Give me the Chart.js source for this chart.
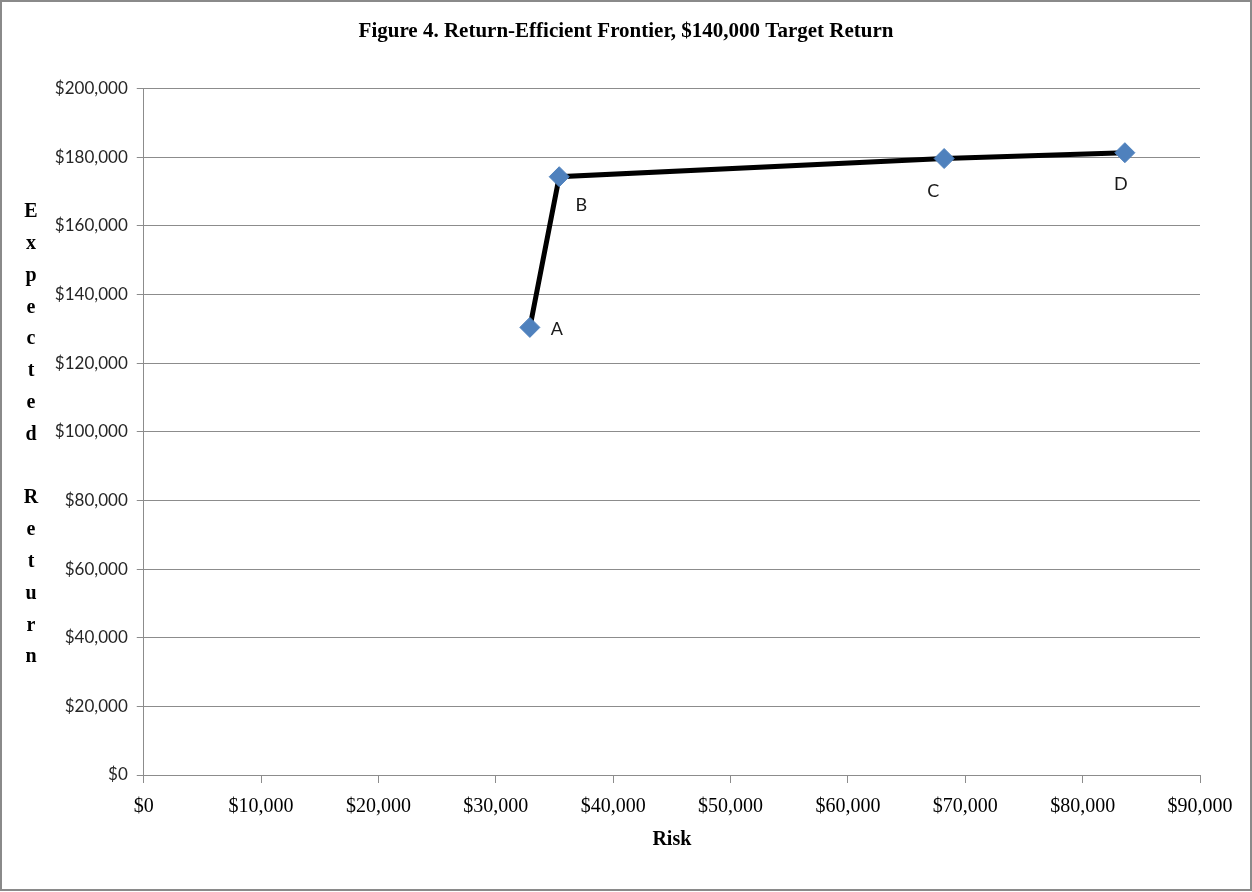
<!DOCTYPE html>
<html>
<head>
<meta charset="utf-8">
<script src="https://cdn.jsdelivr.net/npm/chart.js@4"></script>
<style>
  html, body { margin: 0; padding: 0; background: #fff; }
  #wrap { width: 1252px; height: 892px; position: relative; }
</style>
</head>
<body>
<div id="wrap"><canvas id="c" width="1252" height="892"></canvas></div>
<script>
// ---- data ----
const pointNames   = ['A', 'B', 'C', 'D'];
const riskValues   = [32900, 35400, 68200, 83600];
const returnValues = [130400, 174300, 179600, 181300];
const yTickValues  = [0, 20000, 40000, 60000, 80000, 100000, 120000, 140000, 160000, 180000, 200000];
const xTickValues  = [0, 10000, 20000, 30000, 40000, 50000, 60000, 70000, 80000, 90000];
const chartTitle   = 'Figure 4. Return-Efficient Frontier, $140,000 Target Return';
const xAxisTitle   = 'Risk';
const yAxisTitle   = 'Expected Return';

const fmt = v => '$' + Number(v).toLocaleString('en-US');

const points = riskValues.map((x, i) => ({ x: x, y: returnValues[i] }));

// label offsets (styling only)
const labelOffsets = [[27, 2], [22, 28], [-11, 33], [-4, 31]];

const pointLabelPlugin = {
  id: 'pointLabels',
  afterDatasetsDraw(chart) {
    const ctx = chart.ctx;
    const meta = chart.getDatasetMeta(0);
    ctx.save();
    ctx.font = '18px Lato';
    ctx.fillStyle = '#1a1a1a';
    ctx.textAlign = 'center';
    ctx.textBaseline = 'middle';
    meta.data.forEach((el, i) => {
      const o = labelOffsets[i];
      ctx.fillText(pointNames[i], el.x + o[0], el.y + o[1]);
    });
    ctx.restore();
  }
};

const textPlugin = {
  id: 'texts',
  afterDraw(chart) {
    const ctx = chart.ctx;
    ctx.save();
    // main title, centred on the whole frame
    ctx.font = 'bold 21px "Liberation Serif"';
    ctx.fillStyle = '#000';
    ctx.textAlign = 'center';
    ctx.textBaseline = 'middle';
    ctx.fillText(chartTitle, chart.width / 2, 32);
    // stacked vertical axis title
    ctx.font = 'bold 20px "Liberation Serif"';
    const chars = yAxisTitle.split('');
    const startY = 212, step = 31.8;
    chars.forEach((ch, i) => {
      if (ch !== ' ') ctx.fillText(ch, 31, startY + i * step);
    });
    // frame
    ctx.strokeStyle = '#8a8a8a';
    ctx.lineWidth = 2;
    ctx.strokeRect(1, 1, chart.width - 2, chart.height - 3);
    ctx.restore();
  }
};

new Chart(document.getElementById('c'), {
  type: 'scatter',
  data: {
    datasets: [{
      data: points,
      showLine: true,
      borderColor: '#000000',
      borderWidth: 5,
      pointStyle: 'rectRot',
      pointRadius: 10,
      pointHoverRadius: 10,
      pointBackgroundColor: '#4F81BD',
      pointBorderColor: '#4F81BD',
      pointBorderWidth: 1,
      tension: 0
    }]
  },
  options: {
    responsive: false,
    animation: false,
    events: [],
    layout: { padding: { left: 0, right: 52, top: 88.5, bottom: 0 } },
    plugins: {
      legend: { display: false },
      tooltip: { enabled: false },
      title: { display: false }
    },
    scales: {
      x: {
        type: 'linear',
        position: 'bottom',
        min: 0, max: 90000,
        afterBuildTicks: s => { s.ticks = xTickValues.map(v => ({ value: v })); },
        afterFit: s => { s.height = 892 - 775; },
        ticks: {
          callback: v => fmt(v),
          color: '#000',
          font: { family: '"Liberation Serif"', size: 20 },
          padding: 12,
          maxRotation: 0,
          autoSkip: false
        },
        grid: { drawOnChartArea: false, drawTicks: true, tickLength: 8, color: '#8c8c8c', lineWidth: 1 },
        border: { display: true, color: '#8c8c8c', width: 1 },
        title: {
          display: true,
          text: xAxisTitle,
          color: '#000',
          font: { family: '"Liberation Serif"', size: 20, weight: 'bold', lineHeight: 1.2 },
          padding: { top: 0, bottom: 40 }
        }
      },
      y: {
        type: 'linear',
        min: 0, max: 200000,
        afterBuildTicks: s => { s.ticks = yTickValues.map(v => ({ value: v })); },
        afterFit: s => { s.width = 143.75; },
        ticks: {
          callback: v => fmt(v),
          color: '#262626',
          font: { family: 'Lato', size: 17 },
          padding: 9,
          autoSkip: false
        },
        grid: { drawOnChartArea: true, drawTicks: true, tickLength: 7, color: '#8c8c8c', lineWidth: 1 },
        border: { display: true, color: '#8c8c8c', width: 1 }
      }
    }
  },
  plugins: [pointLabelPlugin, textPlugin]
});
</script>
</body>
</html>
